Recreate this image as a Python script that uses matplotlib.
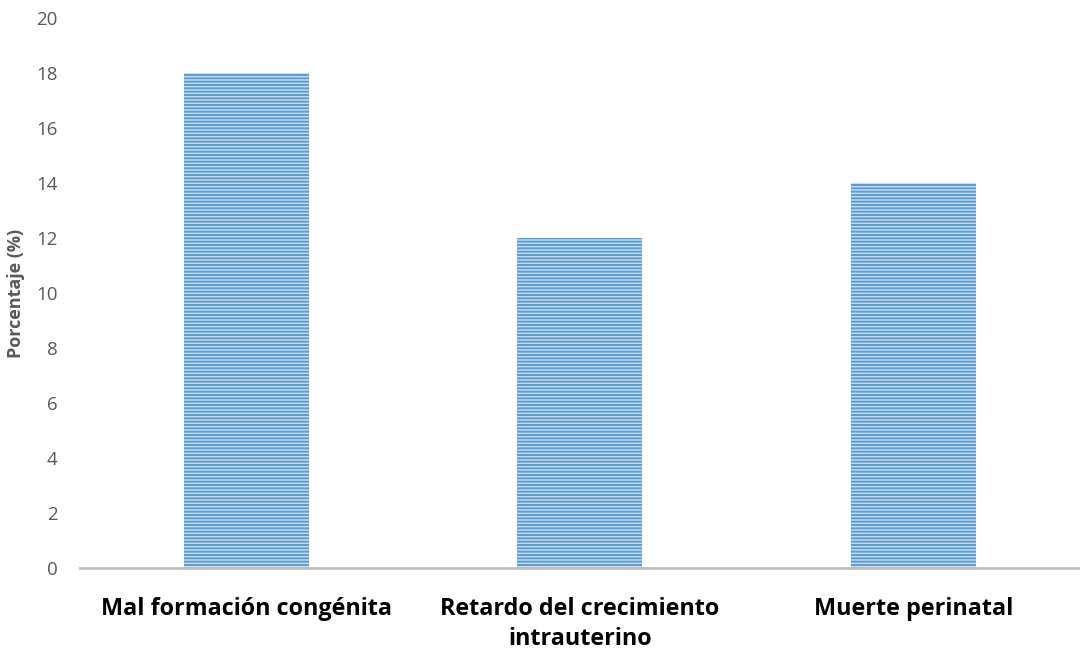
import matplotlib.pyplot as plt

categorias = ['Mal formación congénita', 'Retardo del crecimiento\nintrauterino', 'Muerte perinatal']
porcentajes = [18, 12, 14]
y_ticks = [0, 2, 4, 6, 8, 10, 12, 14, 16, 18, 20]

plt.rcParams['font.family'] = ['Open Sans', 'DejaVu Sans']
plt.rcParams['hatch.linewidth'] = 1.4

fig = plt.figure(figsize=(10.8, 6.52), dpi=100)
ax = fig.add_axes([0.074, 0.129, 0.926, 0.843])

# striped bars: light fill, hatch lines take the edge colour
x = range(len(categorias))
ax.bar(x, porcentajes, width=0.375, color='#C9DEF2', edgecolor='#5B9BD5',
       linewidth=0, hatch='-' * 5)

ax.set_xlim(-0.5, len(categorias) - 0.5)
ax.set_ylim(0, 20)
ax.set_yticks(y_ticks)
ax.set_xticks(list(x))
ax.set_xticklabels(categorias, fontsize=16.8, fontweight='bold', color='black',
                   linespacing=1.35)
ax.tick_params(axis='y', length=0, labelsize=13.5, labelcolor='#595959', pad=16)
ax.tick_params(axis='x', length=0, pad=21)
ax.set_ylabel('Porcentaje (%)', fontsize=13, fontweight='bold', color='#595959',
              labelpad=8)

for side in ['top', 'right', 'left']:
    ax.spines[side].set_visible(False)
ax.spines['bottom'].set_color('#BFBFBF')
ax.spines['bottom'].set_linewidth(2)

fig.savefig('out.png', dpi=100)
